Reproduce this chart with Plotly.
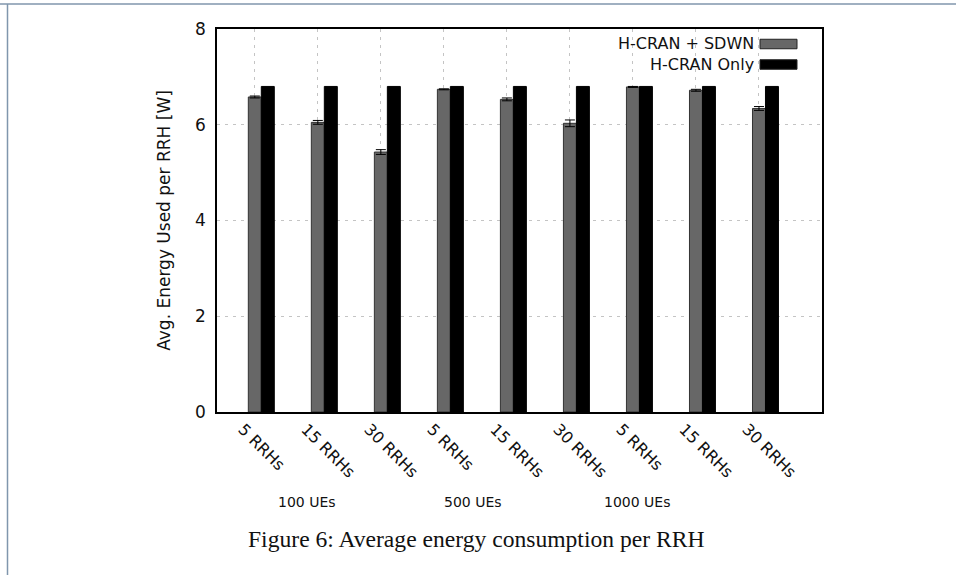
import plotly.graph_objects as go

# ---- data ----
categories = ["5 RRHs", "15 RRHs", "30 RRHs",
              "5 RRHs", "15 RRHs", "30 RRHs",
              "5 RRHs", "15 RRHs", "30 RRHs"]
groups = ["100 UEs", "500 UEs", "1000 UEs"]
group_pos = [0.83, 3.46, 6.06]
series_names = ["H-CRAN + SDWN", "H-CRAN Only"]
sdwn_vals = [6.58, 6.05, 5.43, 6.74, 6.53, 6.03, 6.79, 6.72, 6.34]
sdwn_err = [0.02, 0.04, 0.05, 0.01, 0.03, 0.07, 0.01, 0.02, 0.04]
only_vals = [6.80, 6.80, 6.80, 6.80, 6.80, 6.80, 6.80, 6.80, 6.80]
y_ticks = [0, 2, 4, 6, 8]
y_title = "Avg. Energy Used per RRH [W]"
caption = "Figure 6: Average energy consumption per RRH"

idx = list(range(len(categories)))
GRAY = "#676767"
FONT = "DejaVu Sans"
GRID = "#c4c4c4"

fig = go.Figure()
fig.add_trace(go.Bar(
    x=idx, y=sdwn_vals, name=series_names[0],
    width=0.206, offset=-0.103,
    marker=dict(color=GRAY, line=dict(color="#333333", width=1)),
    error_y=dict(type="data", array=sdwn_err, visible=True,
                 color="black", thickness=1, width=5),
    showlegend=False,
))
fig.add_trace(go.Bar(
    x=idx, y=only_vals, name=series_names[1],
    width=0.206, offset=0.103,
    marker=dict(color="black", line=dict(color="black", width=1)),
    showlegend=False,
))

W, H = 956, 575
L, R, T, B = 217, 822, 29, 412
pw, ph = R - L, B - T


def px_x(x):
    return (x - L) / pw


def px_y(y):
    return (B - y) / ph


annotations = []
shapes = []

# group labels
for g, gx in zip(groups, group_pos):
    annotations.append(dict(x=gx, xref="x", y=px_y(502), yref="paper",
                            text=g, showarrow=False,
                            font=dict(family=FONT, size=14, color="#111111"),
                            xanchor="center", yanchor="middle"))

# caption
annotations.append(dict(x=px_x(476), xref="paper", y=px_y(539), yref="paper",
                        text=caption, showarrow=False,
                        font=dict(family="Liberation Serif", size=23.6, color="#111111"),
                        xanchor="center", yanchor="middle"))

# manual legend (text left, swatch right)
legend_rows = [44, 64.5]
legend_colors = [GRAY, "black"]
for name, cy, col in zip(series_names, legend_rows, legend_colors):
    annotations.append(dict(x=px_x(756), xref="paper", y=px_y(cy), yref="paper",
                            text=name, showarrow=False,
                            font=dict(family=FONT, size=16, color="#111111"),
                            xanchor="right", yanchor="middle"))
    shapes.append(dict(type="rect", xref="paper", yref="paper",
                       x0=px_x(760), x1=px_x(797),
                       y0=px_y(cy - 4.75), y1=px_y(cy + 4.75),
                       fillcolor=col, line=dict(color="#222222", width=1)))

# page frame lines
FRAME = "#8096ad"
shapes.append(dict(type="line", xref="paper", yref="paper",
                   x0=px_x(0), x1=px_x(W + 20), y0=px_y(4), y1=px_y(4),
                   line=dict(color=FRAME, width=1.5)))
shapes.append(dict(type="line", xref="paper", yref="paper",
                   x0=px_x(7.5), x1=px_x(7.5), y0=px_y(4), y1=px_y(H + 20),
                   line=dict(color=FRAME, width=1.5)))

fig.update_layout(
    width=W, height=H,
    margin=dict(l=L, r=W - R, t=T, b=H - B, pad=0),
    paper_bgcolor="white", plot_bgcolor="white",
    barmode="overlay",
    font=dict(family=FONT, size=16, color="#111111"),
    annotations=annotations, shapes=shapes,
)
fig.update_xaxes(
    range=[-0.6, 9.0], tickvals=idx, ticktext=categories,
    tickangle=45, tickfont=dict(family=FONT, size=16, color="#111111"),
    ticklabelshift=-12,
    showgrid=True, gridcolor=GRID, griddash="3px,5px", gridwidth=1,
    showline=True, linecolor="black", linewidth=1.5, mirror=True,
    ticks="", zeroline=False,
)
fig.update_yaxes(
    range=[0, 8], tickvals=y_ticks,
    tickfont=dict(family=FONT, size=17, color="#111111"),
    ticklabelstandoff=6,
    showgrid=True, gridcolor=GRID, griddash="3px,5px", gridwidth=1,
    showline=True, linecolor="black", linewidth=1.5, mirror=True,
    ticks="", zeroline=False,
    title=dict(text=y_title, font=dict(family=FONT, size=17, color="#111111"), standoff=20),
)

fig.write_html("out.html",
               config={"displayModeBar": False},
               post_script="document.body.style.margin='0';document.body.style.overflow='hidden';")
